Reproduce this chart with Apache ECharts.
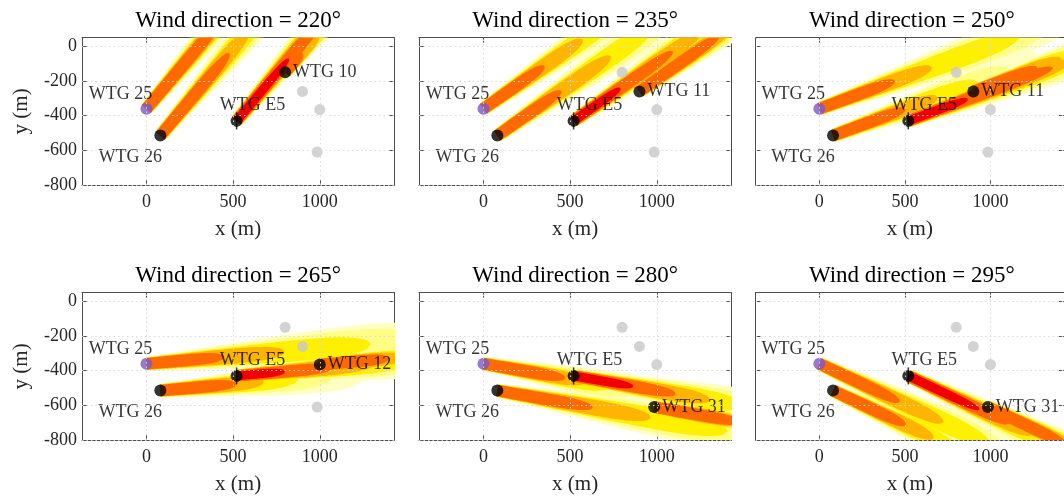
<!DOCTYPE html>
<html><head><meta charset="utf-8">
<script src="https://cdn.jsdelivr.net/npm/echarts@6/dist/echarts.min.js"></script>
<style>html,body{margin:0;padding:0;background:#fff}#c{width:1064px;height:498px}</style>
</head><body><div id="c"></div>
<script>
// ---------------- data ----------------
const DIRECTIONS = [220, 235, 250, 265, 280, 295];
const TURBINE_NAMES = ['WTG 25', 'WTG 26', 'WTG E5', 'WTG 10', 'WTG 11', 'WTG 12', 'WTG 31'];
const TURBINE_X = [0, 80, 520, 800, 900, 1000, 985];
const TURBINE_Y = [-360, -515, -430, -150, -260, -365, -610];
const ACTIVE_TURBINE = ['WTG 10', 'WTG 11', 'WTG 11', 'WTG 12', 'WTG 31', 'WTG 31'];
const OTHER_TURBINES = ['WTG 10', 'WTG 11', 'WTG 12', 'WTG 31'];
const X_TICKS = [0, 500, 1000];
const Y_TICKS = [-800, -600, -400, -200, 0];
// wake contour lengths downstream (m), per source: [palest, pale, yellow, amber, orange, red]
const WAKES_220 = [['WTG 25', 1300, 1200, 1000, 800, 700, 0], ['WTG 26', 1300, 1150, 1000, 800, 620, 0], ['WTG E5', 1300, 1200, 1000, 900, 800, 470], ['WTG 10', 700, 600, 450, 300, 150, 0]];
const WAKES_235 = [['WTG 25', 1300, 1200, 1000, 700, 430, 0], ['WTG 26', 1400, 1300, 1100, 800, 450, 0], ['WTG E5', 1400, 1300, 1100, 900, 700, 330], ['WTG 11', 900, 800, 700, 650, 560, 0]];
const WAKES_250 = [['WTG 25', 1600, 1450, 1250, 700, 470, 0], ['WTG 26', 1300, 1100, 900, 650, 450, 0], ['WTG E5', 1400, 1300, 1100, 1000, 900, 370], ['WTG 11', 900, 800, 650, 550, 400, 0]];
const WAKES_265 = [['WTG 25', 1700, 1600, 1300, 800, 450, 0], ['WTG 26', 1200, 1000, 800, 600, 440, 0], ['WTG E5', 1300, 1150, 1000, 800, 560, 280], ['WTG 12', 700, 600, 550, 480, 400, 0]];
const WAKES_280 = [['WTG 25', 1100, 900, 750, 600, 480, 0], ['WTG 26', 1600, 1500, 1350, 900, 560, 0], ['WTG E5', 1300, 1150, 1000, 800, 600, 350], ['WTG 31', 700, 600, 550, 520, 500, 0]];
const WAKES_295 = [['WTG 25', 1300, 1200, 1100, 800, 520, 0], ['WTG 26', 1000, 900, 800, 650, 470, 0], ['WTG E5', 1200, 1100, 950, 800, 650, 460], ['WTG 31', 700, 650, 600, 550, 500, 0]];
const PANEL_WAKES = [WAKES_220, WAKES_235, WAKES_250, WAKES_265, WAKES_280, WAKES_295];

// ---------------- styles ----------------
const FONT = 'Liberation Serif';
const LEVEL_COLORS = ['#FFFFC4', '#FFFF85', '#FFF000', '#FFB400', '#FF6A00', '#F00000'];
const LEVEL_R0 = [40, 38, 36, 35, 33, 26];
const LEVEL_K = [0.07, 0.05, 0.032, 0.02, 0.008, 0.0];
const COL_LEFT = [82, 419, 755.7];
const ROW_TOP = [37.7, 292.7];
const PW = 312.3, PH = 147.3;
const XMIN = -372, XMAX = 1430, YMIN = -800, YMAX = 50;
const AXIS_COLOR = '#4d4d4d';
const LABEL_OFFSETS = { 'WTG 25': [-26, -14], 'WTG 26': [-30, 22], 'WTG E5': [16, -16] };

function idx(name) { return TURBINE_NAMES.indexOf(name); }

function wakeRender(params, api) {
  const x0 = api.value(0), y0 = api.value(1), dir = api.value(2), L = api.value(3), lvl = api.value(4);
  const th = (dir - 180) * Math.PI / 180;
  const ux = Math.sin(th), uy = Math.cos(th);
  const px = uy, py = -ux;
  const N = 60;
  const left = [], right = [];
  for (let i = 0; i <= N; i++) {
    const s = L * i / N;
    const t = s / L;
    const hw = (LEVEL_R0[lvl] + LEVEL_K[lvl] * s) * Math.sqrt(Math.max(0, 1 - Math.pow(t, 6)));
    const cx = x0 + ux * s, cy = y0 + uy * s;
    left.push(api.coord([cx + px * hw, cy + py * hw]));
    right.push(api.coord([cx - px * hw, cy - py * hw]));
  }
  const pts = left.concat(right.reverse());
  return { type: 'polygon', shape: { points: pts }, style: { fill: LEVEL_COLORS[lvl], stroke: null } };
}

const grids = [], xAxes = [], yAxes = [], series = [], titles = [];
const tickLabelStyle = { fontFamily: FONT, fontSize: 18, color: '#262626', formatter: v => String(v) };

for (let p = 0; p < 6; p++) {
  const r = Math.floor(p / 3), c = p % 3;
  grids.push({ left: COL_LEFT[c], top: ROW_TOP[r], width: PW, height: PH });
  titles.push({
    text: 'Wind direction = ' + DIRECTIONS[p] + '°',
    left: COL_LEFT[c] + PW / 2, top: ROW_TOP[r] - 28, textAlign: 'center', padding: 0,
    textStyle: { fontFamily: FONT, fontSize: 23, fontWeight: 'normal', color: '#000' }
  });
  const axLine = { show: true, onZero: false, lineStyle: { color: AXIS_COLOR, width: 1 } };
  xAxes.push({
    type: 'value', gridIndex: p, position: 'bottom', min: XMIN, max: XMAX,
    axisLine: axLine, splitLine: { show: false },
    axisTick: { show: true, inside: true, length: 5, customValues: X_TICKS, lineStyle: { color: AXIS_COLOR } },
    axisLabel: Object.assign({ show: true, customValues: X_TICKS, margin: 8 }, tickLabelStyle),
    name: 'x (m)', nameLocation: 'middle', nameGap: 34,
    nameTextStyle: { fontFamily: FONT, fontSize: 21, color: '#262626' }
  });
  xAxes.push({
    type: 'value', gridIndex: p, position: 'top', min: XMIN, max: XMAX,
    axisLine: axLine, splitLine: { show: false },
    axisTick: { show: true, inside: true, length: 5, customValues: X_TICKS, lineStyle: { color: AXIS_COLOR } },
    axisLabel: { show: false }
  });
  yAxes.push({
    type: 'value', gridIndex: p, position: 'left', min: YMIN, max: YMAX,
    axisLine: axLine, splitLine: { show: false },
    axisTick: { show: true, inside: true, length: 5, customValues: Y_TICKS, lineStyle: { color: AXIS_COLOR } },
    axisLabel: Object.assign({ show: c === 0, customValues: Y_TICKS, margin: 5 }, tickLabelStyle),
    name: c === 0 ? 'y (m)' : '', nameLocation: 'middle', nameGap: 50,
    nameTextStyle: { fontFamily: FONT, fontSize: 21, color: '#262626' }
  });
  yAxes.push({
    type: 'value', gridIndex: p, position: 'right', min: YMIN, max: YMAX,
    axisLine: axLine, splitLine: { show: false },
    axisTick: { show: true, inside: true, length: 5, customValues: Y_TICKS, lineStyle: { color: AXIS_COLOR } },
    axisLabel: { show: false }
  });
  const xi = 2 * p, yi = 2 * p;
  // wakes
  const items = [];
  PANEL_WAKES[p].forEach(w => {
    const t = idx(w[0]);
    for (let lvl = 0; lvl < 6; lvl++) {
      const L = w[1 + lvl];
      if (L > 0) items.push([TURBINE_X[t], TURBINE_Y[t], DIRECTIONS[p], L, lvl]);
    }
  });
  items.sort((a, b) => a[4] - b[4]);
  series.push({
    type: 'custom', xAxisIndex: xi, yAxisIndex: yi, clip: true, z: 1, silent: true,
    renderItem: wakeRender, data: items
  });
  // grid lines (drawn above the wake fields, as in the source figure)
  series.push({
    type: 'scatter', xAxisIndex: xi, yAxisIndex: yi, data: [], z: 2, silent: true,
    markLine: {
      silent: true, symbol: ['none', 'none'], label: { show: false }, animation: false,
      lineStyle: { type: [1.5, 3], color: 'rgba(215,215,215,0.9)', width: 1 },
      data: X_TICKS.map(v => ({ xAxis: v })).concat(Y_TICKS.map(v => ({ yAxis: v })))
    }
  });
  // gray turbines
  const gray = OTHER_TURBINES.filter(n => n !== ACTIVE_TURBINE[p]).map(n => [TURBINE_X[idx(n)], TURBINE_Y[idx(n)]]);
  series.push({
    type: 'scatter', xAxisIndex: xi, yAxisIndex: yi, z: 3, silent: true,
    symbol: 'circle', symbolSize: 11, itemStyle: { color: '#C8C8C8' }, data: gray
  });
  // labeled turbines
  const named = ['WTG 25', 'WTG 26', 'WTG E5', ACTIVE_TURBINE[p]].map(n => {
    const t = idx(n);
    const lab = LABEL_OFFSETS[n]
      ? { show: true, position: 'inside', offset: LABEL_OFFSETS[n] }
      : { show: true, position: 'right', distance: 2 };
    return {
      name: n, value: [TURBINE_X[t], TURBINE_Y[t]],
      itemStyle: { color: n === 'WTG 25' ? '#7E57C2' : '#000' },
      label: Object.assign(lab, { formatter: '{b}', fontFamily: FONT, fontSize: 18, color: '#000' })
    };
  });
  series.push({
    type: 'scatter', xAxisIndex: xi, yAxisIndex: yi, z: 4, silent: true,
    symbol: 'circle', symbolSize: 12, data: named
  });
  // E5 cross mark
  const e = idx('WTG E5');
  series.push({
    type: 'scatter', xAxisIndex: xi, yAxisIndex: yi, z: 5, silent: true,
    symbol: 'rect', symbolSize: [1.5, 17], itemStyle: { color: '#000' },
    data: [[TURBINE_X[e], TURBINE_Y[e]]]
  });
}

const chart = echarts.init(document.getElementById('c'), null, { renderer: 'canvas' });
chart.setOption({
  animation: false,
  backgroundColor: '#fff',
  textStyle: { fontFamily: FONT },
  title: titles, grid: grids, xAxis: xAxes, yAxis: yAxes, series: series
});
</script></body></html>
